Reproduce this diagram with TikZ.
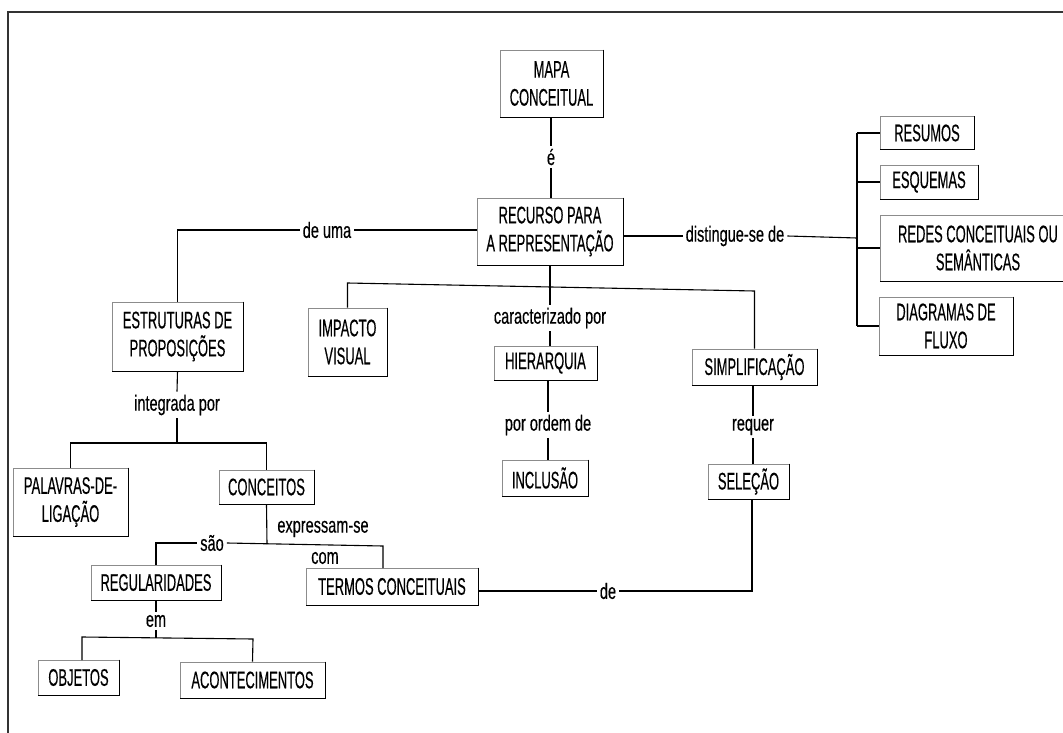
\documentclass[tikz,border=0pt]{standalone}
\usepackage{fontspec}
\setmainfont{Liberation Sans}
\newfontfamily\boxfont{Liberation Sans}[FakeStretch=0.54,FakeBold=0.4]
\newfontfamily\labfont{Liberation Sans}[FakeStretch=0.66,FakeBold=0.35]
\begin{document}
\begin{tikzpicture}[x=1pt,y=-1pt,
  cbox/.style={draw=black!45, line width=0.6pt, inner sep=0pt, align=center,
    font=\boxfont\fontsize{24}{28}\selectfont},
  lab/.style={fill=white, inner sep=3pt, font=\labfont\fontsize{22}{24}\selectfont},
  conn/.style={line width=1.1pt, black},
  shadeedge/.style={line width=1.4pt, black},
  frame/.style={line width=1.3pt, black!80}]
\useasboundingbox (0,0) rectangle (1063,733);
\draw[frame] (8,733) -- (8,12) -- (1063,12);

% concept boxes
\node[cbox, minimum width=103, minimum height=67] (mapa) at (551.5,83.5) {MAPA\\CONCEITUAL};
\node[cbox, minimum width=146, minimum height=67] (recurso) at (550,231.5) {RECURSO PARA\\A REPRESENTAÇÃO};
\node[cbox, minimum width=94, minimum height=33] (resumos) at (927,133) {RESUMOS};
\node[cbox, minimum width=98, minimum height=34] (esquemas) at (929,182) {ESQUEMAS};
\node[cbox, minimum width=196, minimum height=66] (redes) at (978,248) {REDES CONCEITUAIS OU\\SEMÂNTICAS};
\node[cbox, minimum width=134, minimum height=58] (diagramas) at (946,326) {DIAGRAMAS DE\\FLUXO};
\node[cbox, minimum width=131, minimum height=69] (estruturas) at (177.5,336.5) {ESTRUTURAS DE\\PROPOSIÇÕES};
\node[cbox, minimum width=79, minimum height=68] (impacto) at (347.5,342) {IMPACTO\\VISUAL};
\node[cbox, minimum width=103, minimum height=34] (hierarquia) at (545.5,363) {HIERARQUIA};
\node[cbox, minimum width=86, minimum height=36] (inclusao) at (545,478) {INCLUSÃO};
\node[cbox, minimum width=125, minimum height=36] (simplificacao) at (754.5,367) {SIMPLIFICAÇÃO};
\node[cbox, minimum width=81, minimum height=35] (selecao) at (748.5,481.5) {SELEÇÃO};
\node[cbox, minimum width=115, minimum height=68] (palavras) at (70.5,502) {PALAVRAS-DE-\\LIGAÇÃO};
\node[cbox, minimum width=95, minimum height=34] (conceitos) at (266.5,487) {CONCEITOS};
\node[cbox, minimum width=130, minimum height=35] (regularidades) at (156,582.5) {REGULARIDADES};
\node[cbox, minimum width=172, minimum height=37] (termos) at (392,586.5) {TERMOS CONCEITUAIS};
\node[cbox, minimum width=81, minimum height=35] (objetos) at (78.5,677.5) {OBJETOS};
\node[cbox, minimum width=145, minimum height=36] (acontecimentos) at (252.5,680) {ACONTECIMENTOS};

% darker right and bottom edges
\foreach \n in {mapa,recurso,resumos,esquemas,redes,diagramas,estruturas,impacto,
  hierarquia,inclusao,simplificacao,selecao,palavras,conceitos,regularidades,
  termos,objetos,acontecimentos}
  \draw[shadeedge] (\n.north east) -- (\n.south east) -- (\n.south west);

% linking words
\node[lab] (e) at (551,157) {é};
\node[lab] (deuma) at (327,230) {de uma};
\node[lab] (disting) at (735,236) {distingue-se de};
\node[lab] (caract) at (550,318) {caracterizado por};
\node[lab] (porordem) at (548,425) {por ordem de};
\node[lab] (requer) at (753,427) {requer};
\node[lab] (integrada) at (177,405) {integrada por};
\node[lab, fill=none] (expressam) at (323,529) {expressam-se};
\node[lab] (sao) at (212,543) {são};
\node[lab, fill=none] (com) at (325,558) {com};
\node[lab] (em) at (156,621) {em};
\node[lab] (de) at (608,591) {de};

% junction points
\coordinate (br) at (857,238);
\coordinate (hL) at (347.5,283);
\coordinate (hR) at (754.5,291);
\coordinate (jInt) at (177,443);
\coordinate (jConc) at (267,544);
\coordinate (jEm) at (156,638);
\coordinate (jSel) at (752,591);

% connectors
\draw[conn] (mapa.south -| e) -- (e.north);
\draw[conn] (e.south) -- (e.south |- recurso.north);

\draw[conn] (recurso.west |- deuma) -- (deuma.east);
\draw[conn] (deuma.west) -- (deuma.west -| estruturas.north) -- (estruturas.north);

\draw[conn] (recurso.east |- disting) -- (disting.west);
\draw[conn] (disting.east) -- (br);
\draw[conn] (resumos.west -| br) -- (diagramas.west -| br);
\draw[conn] (resumos.west -| br) -- (resumos.west);
\draw[conn] (esquemas.west -| br) -- (esquemas.west);
\draw[conn] (redes.west -| br) -- (redes.west);
\draw[conn] (diagramas.west -| br) -- (diagramas.west);

\draw[conn] (impacto.north) -- (hL) -- (hR) -- (simplificacao.north);
\draw[conn] (recurso.south) -- (caract.north);
\draw[conn] (caract.south) -- (caract.south |- hierarquia.north);
\draw[conn] (porordem.north |- hierarquia.south) -- (porordem.north);
\draw[conn] (porordem.south) -- (porordem.south |- inclusao.north);

\draw[conn] (requer.north |- simplificacao.south) -- (requer.north);
\draw[conn] (requer.south) -- (requer.south |- selecao.north);
\draw[conn] (jSel |- selecao.south) -- (jSel) -- (de.east);
\draw[conn] (de.west) -- (de.west -| termos.east);

\draw[conn] (estruturas.south) -- (integrada.north);
\draw[conn] (integrada.south) -- (jInt);
\draw[conn] (palavras.north) -- (palavras.north |- jInt) -- (conceitos.north |- jInt) -- (conceitos.north);

\draw[conn] (conceitos.south) -- (jConc);
\draw[conn] (regularidades.north) -- (regularidades.north |- sao) -- (sao.west);
\draw[conn] (sao.east) -- (383,546) -- (383,568);

\draw[conn] (regularidades.south) -- (em.north);
\draw[conn] (em.south) -- (jEm);
\draw[conn] (82,660) -- (82,637) -- (253,639) -- (acontecimentos.north);
\end{tikzpicture}
\end{document}
